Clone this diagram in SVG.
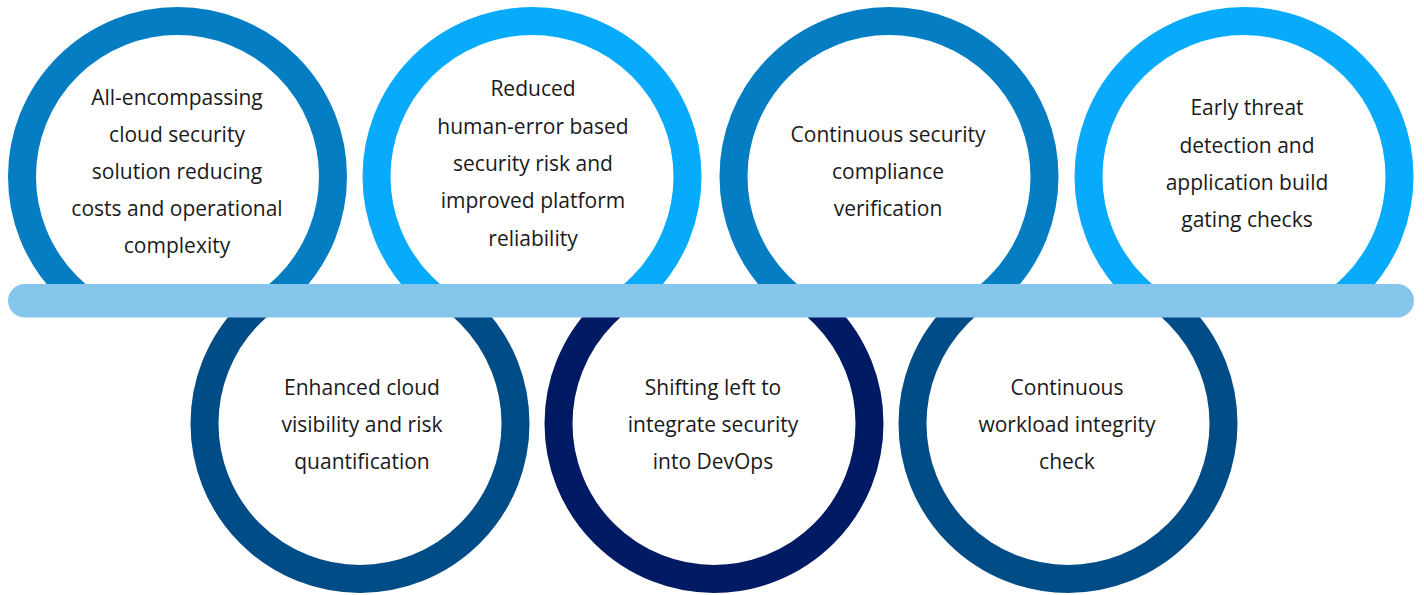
<svg xmlns="http://www.w3.org/2000/svg" width="1424" height="595" viewBox="0 0 1424 595">
<style>
.ring{fill:none;stroke-width:28}
.t{font-family:"Open Sans","Noto Sans",sans-serif;font-size:21px;fill:#1a1a1a;text-anchor:middle}
</style>
<defs>
<clipPath id="top"><rect x="0" y="0" width="1424" height="300"/></clipPath>
<clipPath id="bot"><rect x="0" y="300" width="1424" height="295"/></clipPath>
</defs>
<rect width="1424" height="595" fill="#fff"/>
<g id="n1"><circle class="ring" cx="177.5" cy="176.5" r="155.5" stroke="#047DC3" clip-path="url(#top)"/>
<text class="t" x="177" y="105">All-encompassing</text><text class="t" x="177" y="142">cloud security</text><text class="t" x="177" y="179">solution reducing</text><text class="t" x="177" y="216">costs and operational</text><text class="t" x="177" y="253">complexity</text></g>
<g id="n2"><circle class="ring" cx="532" cy="176.5" r="155.5" stroke="#08ABFC" clip-path="url(#top)"/>
<text class="t" x="533" y="96">Reduced</text><text class="t" x="533" y="134">human-error based</text><text class="t" x="533" y="171">security risk and</text><text class="t" x="533" y="208">improved platform</text><text class="t" x="533" y="246">reliability</text></g>
<g id="n3"><circle class="ring" cx="889" cy="176.5" r="155.5" stroke="#047DC3" clip-path="url(#top)"/>
<text class="t" x="888" y="142">Continuous security</text><text class="t" x="888" y="179">compliance</text><text class="t" x="888" y="216">verification</text></g>
<g id="n4"><circle class="ring" cx="1244" cy="176.5" r="155.5" stroke="#08ABFC" clip-path="url(#top)"/>
<text class="t" x="1247" y="115">Early threat</text><text class="t" x="1247" y="153">detection and</text><text class="t" x="1247" y="190">application build</text><text class="t" x="1247" y="227">gating checks</text></g>
<g id="n5"><circle class="ring" cx="360" cy="423.5" r="155.5" stroke="#004C87" clip-path="url(#bot)"/>
<text class="t" x="362" y="395">Enhanced cloud</text><text class="t" x="362" y="432">visibility and risk</text><text class="t" x="362" y="469">quantification</text></g>
<g id="n6"><circle class="ring" cx="714" cy="423.5" r="155.5" stroke="#001A63" clip-path="url(#bot)"/>
<text class="t" x="713" y="395">Shifting left to</text><text class="t" x="713" y="432">integrate security</text><text class="t" x="713" y="469">into DevOps</text></g>
<g id="n7"><circle class="ring" cx="1068" cy="423.5" r="155.5" stroke="#004C87" clip-path="url(#bot)"/>
<text class="t" x="1067" y="395">Continuous</text><text class="t" x="1067" y="432">workload integrity</text><text class="t" x="1067" y="469">check</text></g>
<g id="connectors"><rect x="8" y="284" width="1406" height="33.5" rx="16.75" fill="#87C6EC"/></g>
</svg>
